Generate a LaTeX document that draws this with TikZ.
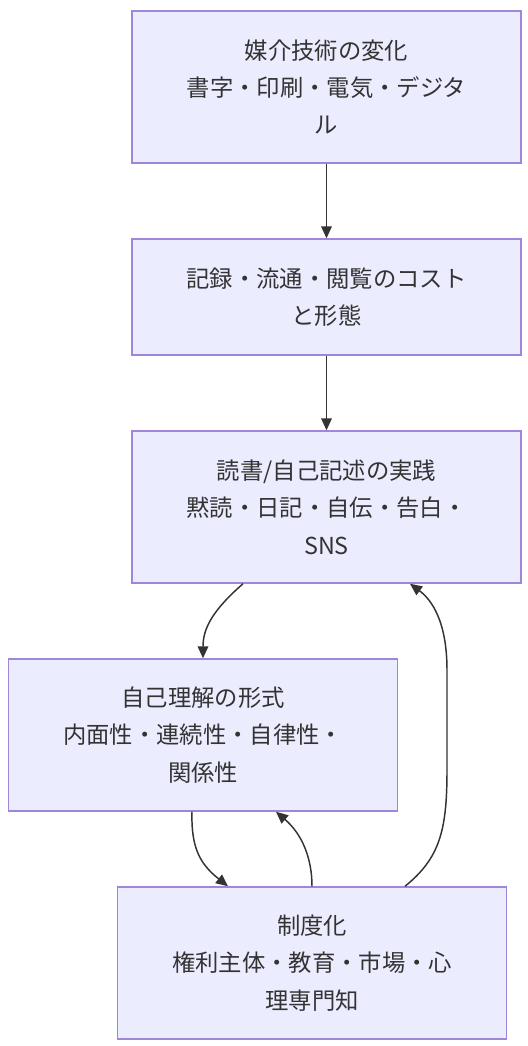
\documentclass[tikz,border=0pt]{standalone}
\usepackage{fontspec}
\usepackage{xcolor}
\usepackage{tikz}
\usetikzlibrary{arrows.meta,calc}
\setmainfont{Noto Sans CJK JP}
\definecolor{boxfill}{HTML}{ECECFF}
\definecolor{boxline}{HTML}{9F86DB}
\definecolor{ink}{HTML}{333333}

\begin{document}
\begin{tikzpicture}[x=0.75pt,y=-0.75pt,
	box/.style={draw=boxline,fill=boxfill,line width=1.1pt,text=ink,align=center,
		minimum width=291.75pt,inner sep=0pt,font=\fontsize{17.5}{28}\selectfont},
	link/.style={draw=ink,line width=1.1pt,-{Triangle[length=9pt,width=8pt]}}]
					\useasboundingbox (0,0) rectangle (528,1046);
					\node [box,minimum height=114pt] (media) at (326.5,87) {媒介技術の変化\\書字・印刷・電気・デジタ\\ル};
					\node [box,minimum height=87pt] (cost) at (326.5,297) {記録・流通・閲覧のコスト\\と形態};
					\node [box,minimum height=114pt] (practice) at (326.5,507) {読書/自己記述の実践\\黙読・日記・自伝・告白・\\SNS};
					\node [box,minimum height=114pt] (self) at (203,735) {自己理解の形式\\内面性・連続性・自律性・\\関係性};
					\node [box,minimum height=114pt] (inst) at (312,963) {制度化\\権利主体・教育・市場・心\\理専門知};
					\draw [link] (media) -- (cost);
					\draw [link] (cost) -- (practice);
					\draw [link] ($(practice.south)+(-83.5,0)$) .. controls (213,610) and (203,628) .. (self.north);
					\draw [link] ($(self.south)+(-11,0)$) .. controls (191,848) and (200,864) .. ($(inst.north)+(-84,0)$);
					\draw [link] (inst.north) .. controls (312,858) and (302,834) .. ($(self.south)+(73,0)$);
					\draw [link] ($(inst.north)+(93,0)$) .. controls (440,858) and (447,830) .. (447,770) -- (447,670) .. controls (447,622) and (432,600) .. ($(practice.south)+(83.5,0)$);
\end{tikzpicture}
\end{document}
